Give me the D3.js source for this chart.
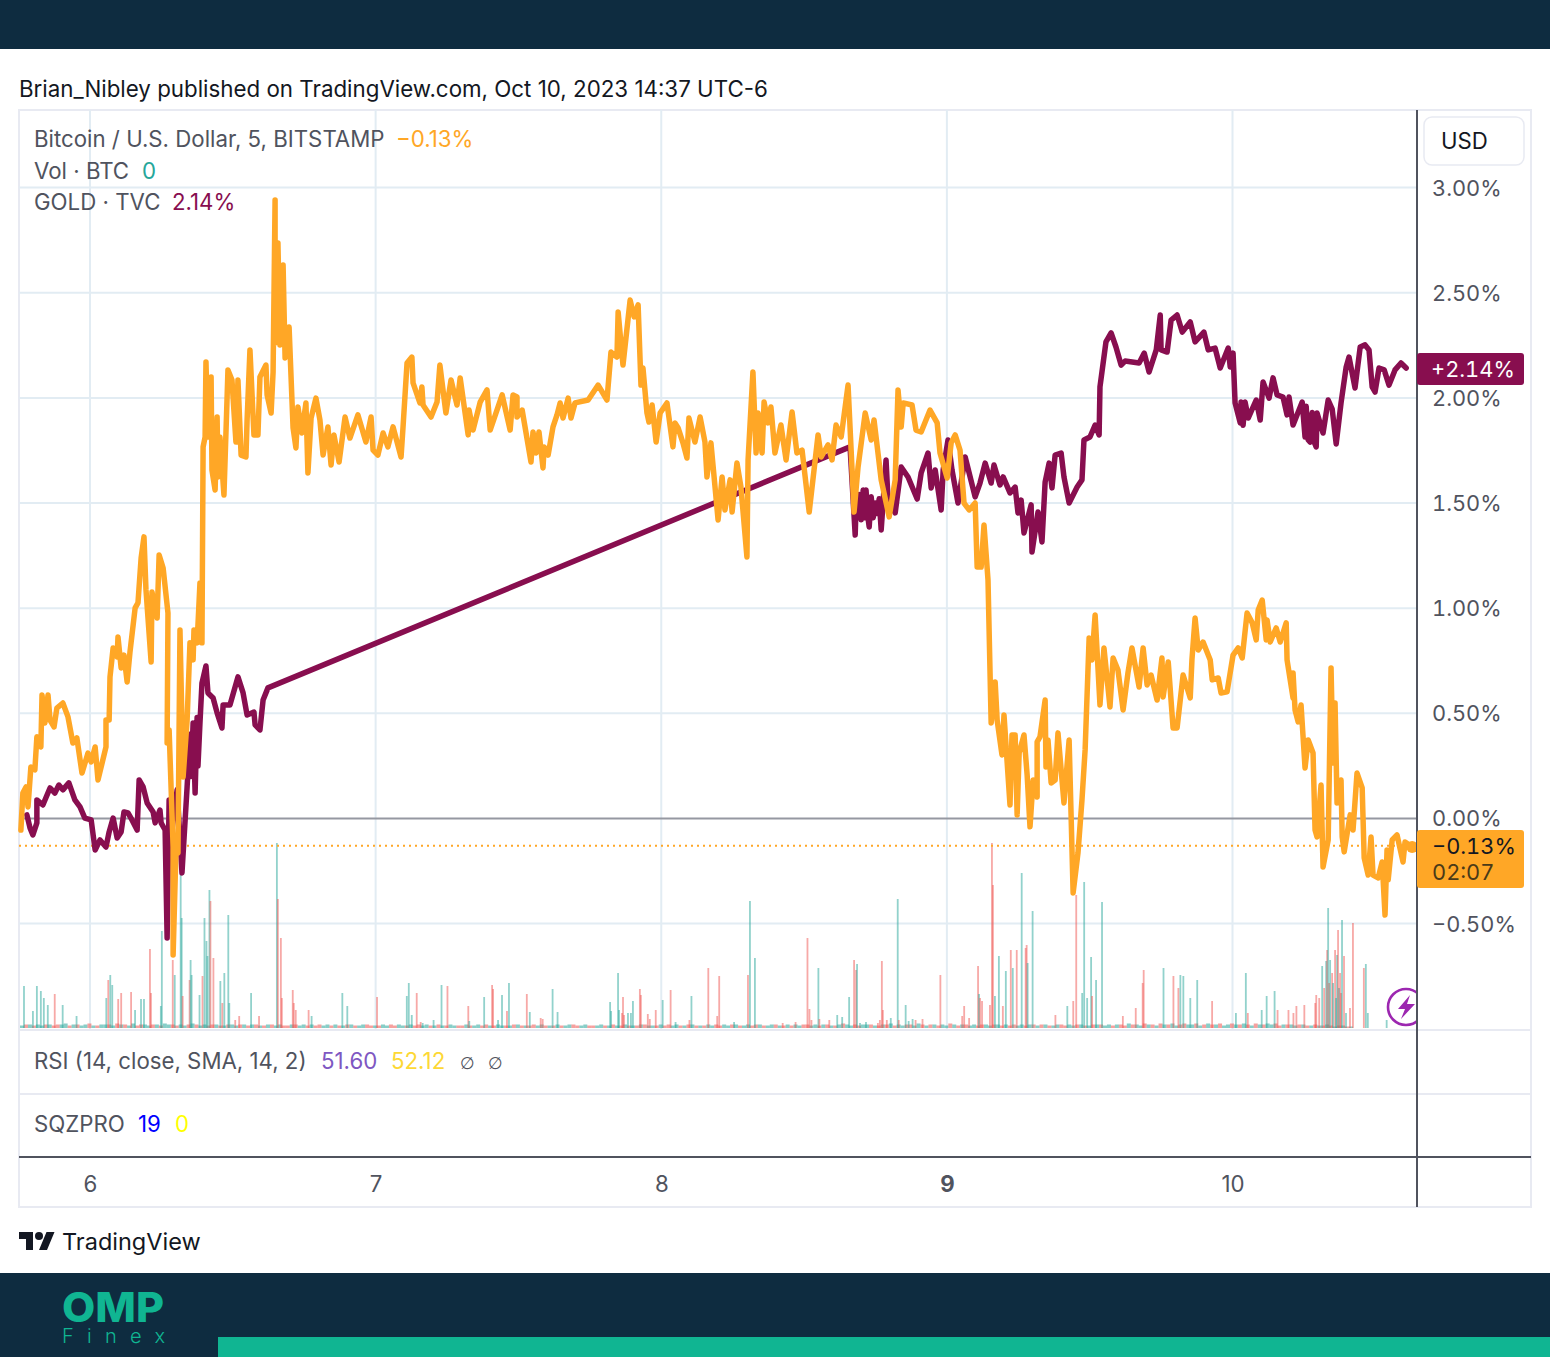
<!DOCTYPE html>
<html>
<head>
<meta charset="utf-8">
<script src="https://cdnjs.cloudflare.com/ajax/libs/d3/7.8.5/d3.min.js"></script>
<style>
html, body { margin: 0; padding: 0; background: #fff; }
svg { display: block; }
text { font-family: Inter, "Noto Sans", sans-serif; }
.tab text, text.tab { font-feature-settings: "tnum"; }
</style>
</head>
<body>
<svg id="chart" width="1550" height="1357"></svg>
<script>
// days of october (x), percent change (y)
const btcDays = [5.758,5.765,5.776,5.783,5.793,5.807,5.814,5.828,5.832,5.842,5.853,5.860,5.874,5.884,5.905,5.923,5.940,5.954,5.972,5.993,6.004,6.018,6.028,6.056,6.056,6.067,6.070,6.081,6.095,6.098,6.109,6.119,6.130,6.140,6.158,6.168,6.179,6.189,6.196,6.214,6.217,6.235,6.242,6.256,6.273,6.270,6.277,6.291,6.291,6.301,6.308,6.315,6.326,6.340,6.350,6.361,6.364,6.375,6.385,6.392,6.396,6.403,6.406,6.413,6.424,6.427,6.438,6.445,6.448,6.455,6.469,6.480,6.483,6.497,6.511,6.518,6.529,6.546,6.550,6.560,6.574,6.588,6.595,6.616,6.620,6.634,6.641,6.648,6.648,6.658,6.665,6.676,6.683,6.697,6.711,6.721,6.728,6.742,6.756,6.763,6.774,6.791,6.805,6.816,6.833,6.844,6.854,6.872,6.893,6.910,6.938,6.966,6.984,6.991,7.008,7.026,7.043,7.061,7.089,7.096,7.110,7.127,7.131,7.155,7.162,7.166,7.194,7.215,7.225,7.246,7.264,7.285,7.296,7.324,7.327,7.341,7.366,7.390,7.401,7.443,7.471,7.481,7.495,7.495,7.513,7.544,7.551,7.562,7.572,7.586,7.590,7.604,7.621,7.635,7.646,7.656,7.674,7.684,7.698,7.744,7.779,7.810,7.824,7.845,7.849,7.866,7.891,7.905,7.919,7.929,7.936,7.950,7.957,7.968,7.982,7.996,8.020,8.041,8.048,8.059,8.076,8.090,8.097,8.118,8.136,8.153,8.160,8.174,8.199,8.213,8.223,8.241,8.248,8.265,8.279,8.300,8.304,8.321,8.332,8.339,8.353,8.360,8.374,8.384,8.398,8.419,8.437,8.458,8.475,8.493,8.518,8.549,8.560,8.584,8.598,8.612,8.630,8.654,8.675,8.689,8.714,8.735,8.745,8.770,8.798,8.819,8.829,8.840,8.847,8.878,8.892,8.910,8.941,8.966,8.976,9.001,9.015,9.029,9.046,9.060,9.078,9.099,9.106,9.120,9.130,9.144,9.155,9.169,9.176,9.193,9.200,9.221,9.228,9.239,9.246,9.253,9.270,9.281,9.291,9.302,9.316,9.316,9.326,9.344,9.347,9.354,9.365,9.379,9.389,9.410,9.428,9.442,9.459,9.473,9.484,9.498,9.508,9.519,9.536,9.550,9.571,9.582,9.599,9.617,9.634,9.648,9.673,9.687,9.701,9.715,9.736,9.753,9.757,9.775,9.792,9.806,9.827,9.852,9.858,9.869,9.880,9.897,9.922,9.929,9.950,9.960,9.981,10.002,10.020,10.034,10.051,10.069,10.083,10.090,10.104,10.118,10.121,10.132,10.153,10.167,10.188,10.191,10.212,10.212,10.219,10.230,10.240,10.254,10.265,10.282,10.289,10.296,10.310,10.317,10.335,10.345,10.352,10.359,10.366,10.380,10.384,10.391,10.412,10.422,10.436,10.454,10.461,10.475,10.485,10.492,10.510,10.524,10.534,10.541,10.545,10.559,10.576,10.597,10.604,10.629];
const btcPct = [-0.055,0.121,0.150,0.055,0.245,0.231,0.388,0.340,0.587,0.454,0.587,0.468,0.435,0.525,0.549,0.483,0.359,0.383,0.216,0.311,0.269,0.340,0.183,0.340,0.468,0.468,0.673,0.811,0.768,0.863,0.716,0.777,0.649,0.792,1.001,1.025,1.239,1.339,1.087,0.744,1.077,0.953,1.253,1.191,0.977,0.359,0.421,-0.136,-0.649,-0.150,-0.164,0.896,0.197,0.468,0.835,0.754,0.896,0.835,1.120,0.835,1.767,1.814,2.171,1.814,2.099,1.657,1.562,1.909,1.624,1.814,1.538,2.004,2.133,2.085,1.790,2.085,1.728,1.719,1.895,2.228,1.824,1.824,2.099,2.156,2.014,1.928,2.123,2.941,2.261,2.737,2.252,2.632,2.190,2.337,1.857,1.762,1.957,1.833,1.976,1.643,1.904,1.999,1.895,1.728,1.862,1.681,1.824,1.695,1.909,1.809,1.919,1.790,1.909,1.752,1.728,1.833,1.767,1.862,1.719,1.862,2.166,2.194,2.071,1.976,2.052,1.966,1.909,1.980,2.156,1.928,2.085,1.966,2.095,1.824,1.942,1.847,1.980,2.038,1.847,2.014,1.847,2.014,2.004,1.909,1.942,1.695,1.838,1.738,1.838,1.667,1.767,1.728,1.862,1.919,1.976,1.904,1.999,1.904,1.976,1.990,2.061,1.990,2.218,2.194,2.408,2.156,2.465,2.385,2.442,2.061,2.142,1.928,1.885,1.966,1.790,1.928,1.976,1.767,1.881,1.857,1.786,1.714,1.904,1.790,1.909,1.790,1.624,1.786,1.419,1.624,1.467,1.610,1.457,1.690,1.576,1.243,1.705,2.123,1.738,1.928,1.738,1.980,1.881,1.957,1.738,1.871,1.705,1.933,1.738,1.752,1.457,1.824,1.719,1.776,1.705,1.871,1.814,2.061,1.457,1.671,1.928,1.800,1.895,1.610,1.434,1.610,2.038,1.862,1.976,1.966,1.847,1.838,1.942,1.881,1.738,1.619,1.786,1.824,1.752,1.500,1.467,1.500,1.196,1.196,1.396,1.134,0.454,0.649,0.468,0.302,0.492,0.064,0.397,0.397,0.017,0.311,0.397,0.207,-0.040,0.183,0.102,0.364,0.388,0.563,0.245,0.373,0.169,0.183,0.407,0.074,0.373,-0.354,-0.164,0.088,0.326,0.858,0.754,0.968,0.540,0.811,0.530,0.763,0.706,0.516,0.692,0.811,0.625,0.811,0.635,0.682,0.563,0.763,0.578,0.744,0.430,0.430,0.682,0.573,0.754,0.953,0.801,0.839,0.754,0.659,0.668,0.597,0.602,0.777,0.811,0.763,0.977,0.930,0.849,0.991,1.039,0.849,0.944,0.839,0.906,0.839,0.930,0.754,0.573,0.692,0.516,0.459,0.540,0.240,0.373,0.311,-0.055,-0.088,0.159,-0.231,-0.102,0.716,0.264,0.549,0.074,0.183,-0.088,-0.159,0.017,-0.055,0.216,0.145,-0.188,-0.269,-0.088,-0.269,-0.283,-0.207,-0.459,-0.150,-0.292,-0.102,-0.078,-0.207,-0.112,-0.136];

const goldDays = [5.779,5.790,5.800,5.814,5.814,5.835,5.860,5.877,5.891,5.905,5.926,5.947,5.965,5.982,6.004,6.018,6.035,6.056,6.067,6.081,6.095,6.109,6.119,6.133,6.147,6.165,6.172,6.186,6.200,6.221,6.228,6.245,6.249,6.263,6.270,6.277,6.287,6.305,6.322,6.340,6.350,6.354,6.361,6.368,6.375,6.378,6.385,6.392,6.406,6.413,6.431,6.445,6.462,6.466,6.490,6.518,6.536,6.550,6.574,6.578,6.595,6.606,6.623,8.661,8.679,8.683,8.689,8.693,8.700,8.707,8.712,8.717,8.722,8.728,8.735,8.742,8.749,8.756,8.763,8.770,8.787,8.794,8.819,8.840,8.864,8.896,8.910,8.934,8.945,8.959,8.980,8.987,9.004,9.018,9.039,9.064,9.078,9.099,9.116,9.134,9.155,9.165,9.186,9.197,9.221,9.239,9.249,9.260,9.270,9.295,9.298,9.319,9.333,9.344,9.358,9.368,9.379,9.400,9.410,9.428,9.456,9.473,9.480,9.501,9.519,9.533,9.536,9.557,9.575,9.592,9.610,9.624,9.673,9.691,9.708,9.733,9.747,9.750,9.771,9.785,9.806,9.824,9.852,9.869,9.900,9.915,9.939,9.957,9.985,9.992,10.002,10.009,10.027,10.030,10.037,10.044,10.055,10.083,10.097,10.107,10.128,10.142,10.156,10.177,10.191,10.198,10.212,10.244,10.254,10.258,10.265,10.272,10.279,10.286,10.293,10.296,10.317,10.335,10.349,10.363,10.380,10.398,10.408,10.429,10.447,10.464,10.478,10.489,10.499,10.513,10.531,10.548,10.569,10.590,10.608];
const goldPct = [0.017,-0.045,-0.078,-0.021,0.088,0.064,0.145,0.121,0.159,0.136,0.169,0.088,0.055,0.002,-0.007,-0.150,-0.102,-0.136,-0.064,0.002,-0.093,-0.064,0.031,0.026,-0.007,-0.055,0.183,0.150,0.074,0.031,-0.021,0.040,-0.021,-0.055,-0.568,0.088,-0.055,0.136,-0.259,0.150,0.400,0.200,0.454,0.121,0.480,0.250,0.454,0.644,0.725,0.597,0.573,0.502,0.430,0.540,0.540,0.673,0.597,0.492,0.506,0.445,0.421,0.563,0.621,1.767,1.348,1.530,1.430,1.540,1.420,1.562,1.430,1.562,1.450,1.386,1.530,1.430,1.500,1.450,1.520,1.372,1.705,1.514,1.453,1.671,1.624,1.519,1.643,1.738,1.572,1.657,1.467,1.657,1.800,1.657,1.500,1.719,1.643,1.529,1.595,1.690,1.595,1.681,1.586,1.624,1.548,1.576,1.453,1.514,1.358,1.491,1.267,1.457,1.315,1.600,1.690,1.572,1.728,1.738,1.624,1.500,1.576,1.610,1.800,1.814,1.871,1.824,2.052,2.266,2.309,2.242,2.156,2.175,2.166,2.213,2.123,2.228,2.394,2.228,2.218,2.370,2.394,2.313,2.361,2.266,2.313,2.228,2.237,2.142,2.237,2.147,2.213,1.976,1.881,1.980,1.870,1.980,1.904,1.990,1.895,2.076,1.999,2.095,2.014,2.004,1.919,2.004,1.871,1.980,1.814,1.960,1.800,1.790,1.930,1.790,1.767,1.928,1.833,1.990,1.947,1.781,1.976,2.147,2.194,2.047,2.242,2.252,2.228,2.052,2.028,2.142,2.133,2.061,2.133,2.166,2.142];

// 5 minute bars counted from the left edge, signed size: + closed up, - closed down
const volBars = [4,13,17,21,24,28,35,43,57,87,89,91,93,99,102,112,116,122,125,131,132,142,143,154,156,162,163,164,171,172,173,181,184,186,188,189,191,192,195,202,204,206,210,211,217,221,233,241,259,260,263,264,275,276,278,291,294,325,330,360,390,392,395,400,404,406,417,425,431,452,453,468,476,477,482,486,491,493,511,514,525,527,537,542,595,596,603,604,607,608,609,613,616,618,625,626,633,635,641,648,656,661,675,677,694,703,705,720,734,736,741,769,782,794,796,798,805,806,816,824,829,836,841,843,844,847,853,865,867,869,870,874,878,885,886,893,896,900,903,910,928,950,952,957,966,967,968,970,978,980,981,983,987,991,994,999,1001,1005,1010,1014,1015,1016,1021,1044,1056,1062,1065,1071,1073,1076,1080,1081,1085,1091,1112,1125,1132,1133,1153,1163,1168,1170,1173,1180,1187,1202,1226,1236,1238,1252,1257,1265,1268,1279,1284,1287,1295,1306,1307,1310,1313,1315,1317,1318,1319,1320,1321,1323,1324,1326,1327,1328,1329,1330,1331,1332,1333,1335,1337,1341,1344,1355,1357,1359,1378,1385];
const volSizes = [42,17,42,37,30,23,-34,23,12,30,-48,53,43,-29,-35,-36,18,29,29,-79,-35,22,97,-68,53,155,110,-32,-48,68,53,33,-52,110,87,72,138,-127,-70,47,-25,55,113,25,-8,-12,35,-12,185,-129,-90,-30,-38,-25,-18,-18,12,35,22,-31,32,45,13,-35,-6,5,8,43,-42,-22,7,31,-43,-39,8,33,-17,45,-34,16,-10,-9,39,16,26,17,55,18,-15,-31,-13,15,15,27,-39,-33,-14,-9,-18,28,-38,6,-8,32,-60,-12,-52,6,-53,127,70,-5,-6,-90,-19,-8,60,-9,-8,13,11,31,-68,-58,64,5,6,-5,-8,-67,-18,-8,10,129,-8,23,7,9,-8,-9,-53,-12,-22,-10,-62,34,-30,-27,-23,-185,-143,32,72,-22,57,-78,60,-78,155,-80,-83,65,117,-13,22,-27,-133,35,146,30,71,-32,48,126,-12,-20,-45,-58,60,-52,-40,53,52,30,48,-27,15,55,-15,18,32,37,-18,-18,-15,-22,-23,-25,-33,-30,62,-40,67,-78,120,-45,68,-55,45,-78,30,73,-98,40,-55,-35,108,-72,15,-20,-105,-60,64,15,8];

// the low chatter along the baseline, one entry every 4 bars
const volChatter = [2,-3,3,-2,3,2,-3,3,-2,-3,3,4,-2,3,-3,2,3,-4,2,-2,3,3,-3,2,-4,3,-3,2,4,-2,-3,3,2,-3,3,-2,4,3,-3,-2,3,2,-3,4,-3,2,3,-2,-3,3,-2,2,-3,3,2,-3,3,-2,3,-3,2,-2,3,-3,2,3,-2,-2,3,-3,2,3,-2,3,-2,-3,2,3,-2,3,-2,2,-3,3,-2,2,3,-3,-2,2,-2,3,2,-3,-2,3,2,-2,3,-2,-3,2,3,-2,2,-3,2,-2,3,2,-2,-2,3,-2,2,3,-2,-3,2,-2,3,2,-2,2,-3,3,-2,2,-2,-3,2,3,-2,2,-2,3,-2,2,3,-3,-2,2,3,-2,-2,2,3,-2,2,-3,2,-2,3,-2,2,-2,3,-3,2,2,-2,3,-2,-3,2,3,-2,2,-3,3,-2,2,-2,3,2,-3,-2,3,2,-3,3,-2,2,3,-2,-3,3,-2,2,3,-3,2,-2,3,-2,3,2,-3,-3,2,3,-2,3,-3,2,-2,3,-4,3,2,-3,-2,3,3,-3,2,-2,3,-3,4,-2,3,2,-3,-3,2,4,-3,2,-3,3,-2,3,2,-4,3,-2,3,-3,2,3,-2,-3,3,2,-3,3,-2,3,-2,-3,2,3,-2,3,-3,2,-3,3,-2,2,3,-3,-2,3,2,-3,3,-2,2,-3,3,-3,2,3,-2,3,-3,-2,4,-3,3,2,-4,3,-3,2,-4,3,-3,4,2,-3,-4,3,3,-4,2,-3,4,-3,3,-4,2,3,-4,3,-3,4,-3,2,-4,3,-3,4,3,-4,-2,3,-3,3,2,-3,3,-2,2,-3,2,-2,3,-2,1,-2,2,-1,1];

const pctTicks = [3, 2.5, 2, 1.5, 1, 0.5, 0, -0.5];
const dayTicks = [6, 7, 8, 9, 10];

const btcColor = "#ffa726";
const goldColor = "#880e4f";
const textColor = "#50535e";
const gridColor = "#e2ecf3";
const frameColor = "#e8eaf2";
const navy = "#0e2c40";
const green = "#10b592";

const svg = d3.select("#chart");
const plotLeft = 19, plotRight = 1417, plotTop = 110, mainBottom = 1030;

const x = d3.scaleLinear().domain([6, 10]).range([90, 1232.5]);
const y = d3.scaleLinear().domain([-0.5, 3]).range([923.6, 187.6]);
const vol = d3.scaleLinear().domain([0, 200]).range([1028, 828]);
const barDay = i => 5.755 + i / 288;

const fmtPct = d => (d < 0 ? "\u2212" : "") + Math.abs(d).toFixed(2) + "%";

function label(px, py, str, color, size, weight) {
    return svg.append("text")
        .attr("x", px).attr("y", py)
        .attr("fill", color)
        .attr("font-size", size || 22.25)
        .attr("font-weight", weight || 400)
        .text(str);
}

// page bands
svg.append("rect").attr("width", 1550).attr("height", 49).attr("fill", navy);
svg.append("rect").attr("y", 1273).attr("width", 1550).attr("height", 84).attr("fill", navy);
svg.append("rect").attr("x", 218).attr("y", 1337).attr("width", 1332).attr("height", 20).attr("fill", green);

label(19, 97, "Brian_Nibley published on TradingView.com, Oct 10, 2023 14:37 UTC-6", "#131722", 22.34);

// frame and panes
svg.append("rect")
    .attr("x", 19).attr("y", 110).attr("width", 1512).attr("height", 1097)
    .attr("fill", "none").attr("stroke", frameColor).attr("stroke-width", 2);

svg.append("g").selectAll("line")
    .data(dayTicks).join("line")
    .attr("x1", d => x(d)).attr("x2", d => x(d))
    .attr("y1", plotTop).attr("y2", mainBottom)
    .attr("stroke", gridColor).attr("stroke-width", 2);

svg.append("g").selectAll("line")
    .data(pctTicks.filter(d => d !== 0)).join("line")
    .attr("x1", plotLeft).attr("x2", plotRight)
    .attr("y1", d => y(d)).attr("y2", d => y(d))
    .attr("stroke", gridColor).attr("stroke-width", 2);

// volume
const chatter = volChatter.map((v, i) => [i * 4 + 2, v]);
svg.append("g").selectAll("rect")
    .data(chatter).join("rect")
    .attr("x", d => x(barDay(d[0])) - 2)
    .attr("width", 4)
    .attr("y", d => vol(Math.abs(d[1]) + 0.5))
    .attr("height", d => vol(0) - vol(Math.abs(d[1]) + 0.5))
    .attr("fill", d => d[1] > 0 ? "#26a69a" : "#ef5350")
    .attr("opacity", 0.55);

svg.append("g").selectAll("rect")
    .data(d3.zip(volBars, volSizes)).join("rect")
    .attr("x", d => x(barDay(d[0])) - 0.9)
    .attr("width", 1.8)
    .attr("y", d => vol(Math.abs(d[1])))
    .attr("height", d => vol(0) - vol(Math.abs(d[1])))
    .attr("fill", d => d[1] > 0 ? "#26a69a" : "#ef5350")
    .attr("opacity", 0.5);

// zero line and last price line
svg.append("line")
    .attr("x1", plotLeft).attr("x2", plotRight)
    .attr("y1", y(0)).attr("y2", y(0))
    .attr("stroke", "#9598a1").attr("stroke-width", 2);
svg.append("line")
    .attr("x1", plotLeft).attr("x2", plotRight)
    .attr("y1", y(-0.13)).attr("y2", y(-0.13))
    .attr("stroke", btcColor).attr("stroke-width", 2).attr("stroke-dasharray", "2 4");

// series
const line = d3.line().x(d => x(d[0])).y(d => y(d[1]));
svg.append("path")
    .attr("d", line(d3.zip(goldDays, goldPct)))
    .attr("fill", "none").attr("stroke", goldColor).attr("stroke-width", 5.5)
    .attr("stroke-linejoin", "round").attr("stroke-linecap", "round");
svg.append("path")
    .attr("d", line(d3.zip(btcDays, btcPct)))
    .attr("fill", "none").attr("stroke", btcColor).attr("stroke-width", 5.5)
    .attr("stroke-linejoin", "round").attr("stroke-linecap", "round");
svg.append("circle").attr("cx", x(10.629)).attr("cy", y(-0.136)).attr("r", 6).attr("fill", btcColor);

// lightning badge
svg.append("circle").attr("cx", 1406).attr("cy", 1007).attr("r", 18)
    .attr("fill", "#fff").attr("stroke", "#9c27b0").attr("stroke-width", 2.6);
svg.append("path")
    .attr("d", "M1410 995 L1398 1009 L1405 1009 L1401 1019 L1415 1004 L1407 1004 Z")
    .attr("fill", "#9c27b0");

// pane separators
svg.append("rect").attr("x", plotRight + 1).attr("y", 990).attr("width", 112).attr("height", 39).attr("fill", "#fff");
[mainBottom, 1094].forEach(py => {
    svg.append("line")
        .attr("x1", plotLeft).attr("x2", 1531)
        .attr("y1", py).attr("y2", py)
        .attr("stroke", frameColor).attr("stroke-width", 2);
});
svg.append("line")
    .attr("x1", plotLeft).attr("x2", 1531).attr("y1", 1157).attr("y2", 1157)
    .attr("stroke", textColor).attr("stroke-width", 2);
svg.append("line")
    .attr("x1", plotRight).attr("x2", plotRight).attr("y1", plotTop).attr("y2", 1207)
    .attr("stroke", textColor).attr("stroke-width", 2);

// axes
const yAxis = svg.append("g")
    .attr("class", "tab")
    .attr("transform", `translate(${plotRight},0)`)
    .call(d3.axisRight(y).tickValues(pctTicks).tickFormat(fmtPct).tickSize(0).tickPadding(15));
yAxis.select(".domain").remove();
yAxis.attr("font-family", null);
yAxis.selectAll("text").attr("font-size", 21.8).attr("fill", textColor).attr("dy", "0.34em");

const xAxis = svg.append("g")
    .attr("transform", "translate(0,1157)")
    .call(d3.axisBottom(x).tickValues(dayTicks).tickFormat(d3.format("d")).tickSize(0).tickPadding(19));
xAxis.select(".domain").remove();
xAxis.attr("font-family", null);
xAxis.selectAll("text")
    .attr("font-size", 22.25).attr("fill", textColor)
    .attr("font-weight", d => d === 9 ? 700 : 400);

// USD button
svg.append("rect")
    .attr("x", 1424).attr("y", 117).attr("width", 100).attr("height", 48).attr("rx", 8)
    .attr("fill", "#fff").attr("stroke", frameColor).attr("stroke-width", 1.5);
label(1441, 149, "USD", "#131722");

// price labels
svg.append("rect").attr("x", 1417).attr("y", 353).attr("width", 107).attr("height", 32).attr("rx", 3).attr("fill", goldColor);
label(1431, 377, "+2.14%", "#fff", 21.8).attr("class", "tab");
svg.append("rect").attr("x", 1417).attr("y", 830).attr("width", 107).attr("height", 58).attr("rx", 3).attr("fill", btcColor);
label(1432, 854, "\u22120.13%", "#131722", 21.8).attr("class", "tab");
label(1432, 880, "02:07", "#4a3a18", 21.8).attr("class", "tab");

// legends
label(34, 147, "Bitcoin / U.S. Dollar, 5, BITSTAMP", textColor);
label(396, 147, "\u22120.13%", btcColor);
label(34, 179, "Vol \u00b7 BTC", textColor);
label(142, 179, "0", "#26a69a");
label(34, 210, "GOLD \u00b7 TVC", textColor);
label(172, 210, "2.14%", goldColor);
label(34, 1069, "RSI (14, close, SMA, 14, 2)", textColor);
label(321, 1069, "51.60", "#7e57c2");
label(391, 1069, "52.12", "#fdd835");
label(460, 1069, "\u2205", textColor, 17).style("font-family", "DejaVu Sans");
label(488, 1069, "\u2205", textColor, 17).style("font-family", "DejaVu Sans");
label(34, 1132, "SQZPRO", textColor);
label(138, 1132, "19", "#0000ff");
label(175, 1132, "0", "#ffff00");

// TradingView mark
svg.append("g").attr("transform", "translate(19,1228)").attr("fill", "#131722")
    .call(g => {
        g.append("path").attr("d", "M14 22H7V11H0V4h14v18zM28 22h-8l7.5-18h8L28 22z");
        g.append("circle").attr("cx", 20).attr("cy", 8).attr("r", 4);
    });
label(62, 1250, "TradingView", "#131722", 23.5);

// OMP Finex logo
label(62, 1322, "OMP", green, 41, 800).attr("textLength", 102).attr("lengthAdjust", "spacingAndGlyphs");
label(62, 1343, "Finex", green, 20, 300).attr("textLength", 103).attr("lengthAdjust", "spacing");
</script>
</body>
</html>
